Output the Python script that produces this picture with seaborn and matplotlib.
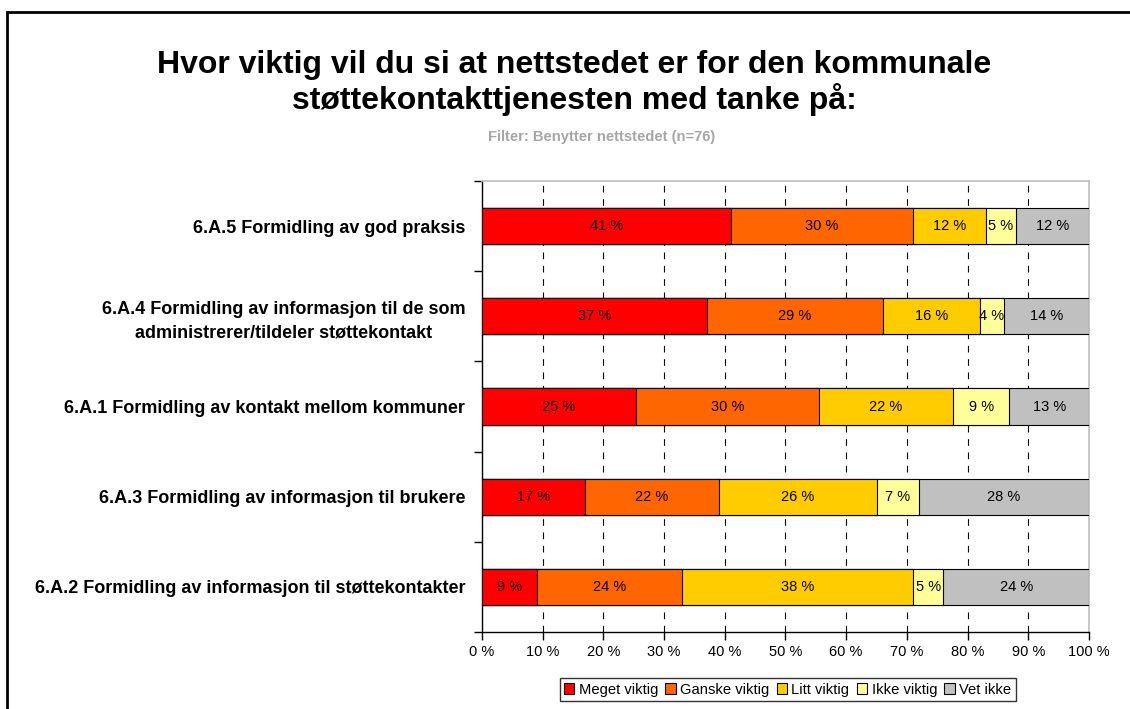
import numpy as np
import pandas as pd
import matplotlib
matplotlib.use("Agg")
import matplotlib.pyplot as plt
import seaborn as sns
from matplotlib.patches import Rectangle, Patch

# data (share of respondents, %)
questions = [
    "6.A.5 Formidling av god praksis",
    "6.A.4 Formidling av informasjon til de som\nadministrerer/tildeler støttekontakt",
    "6.A.1 Formidling av kontakt mellom kommuner",
    "6.A.3 Formidling av informasjon til brukere",
    "6.A.2 Formidling av informasjon til støttekontakter",
]
answers = ["Meget viktig", "Ganske viktig", "Litt viktig", "Ikke viktig", "Vet ikke"]
meget = [41, 37, 25.4, 17, 9]
ganske = [30, 29, 30.1, 22, 24]
litt = [12, 16, 22.1, 26, 38]
ikke = [5, 4, 9.3, 7, 5]
vet_ikke = [12, 14, 13.1, 28, 24]
colors = ["#FF0000", "#FF6600", "#FFCC00", "#FFFF99", "#C0C0C0"]

df = pd.DataFrame({"Spørsmål": questions, "Meget viktig": meget, "Ganske viktig": ganske,
                   "Litt viktig": litt, "Ikke viktig": ikke, "Vet ikke": vet_ikke})
cum = df[answers].cumsum(axis=1)

sns.set_theme(style="white")
plt.rcParams["font.family"] = ["Liberation Sans", "DejaVu Sans"]
plt.rcParams["text.color"] = "black"
plt.rcParams["xtick.color"] = "black"
plt.rcParams["ytick.color"] = "black"
plt.rcParams["axes.labelcolor"] = "black"

fig = plt.figure(figsize=(11.3, 7.09), dpi=100)
ax = fig.add_axes([0.4265, 0.1086, 0.5372, 0.6361])

# stacked bars: draw cumulative totals from the outermost segment inwards
for ans, col in reversed(list(zip(answers, colors))):
    sns.barplot(x=cum[ans], y=df["Spørsmål"], orient="h", color=col, width=0.4,
                edgecolor="black", linewidth=0.8, saturation=1, ax=ax, zorder=3)

for i in range(len(questions)):
    start = 0
    for ans in answers:
        v = df.loc[i, ans]
        ax.text(start + v / 2, i, f"{v:.0f} %", ha="center", va="center",
                fontsize=10.5, color="black", zorder=4)
        start += v

ax.set_xlim(0, 100)
ax.set_ylim(len(questions) - 0.5, -0.5)
ax.set_xticks(np.arange(0, 101, 10))
ax.set_xticklabels([f"{t} %" for t in range(0, 101, 10)], fontsize=10.5)
ax.set_xlabel("")
ax.set_ylabel("")
ax.set_yticks(range(len(questions)))
ax.set_yticklabels(questions, fontsize=13, fontweight="bold")
ax.set_yticks(np.arange(-0.5, len(questions), 1), minor=True)
ax.tick_params(axis="y", which="major", length=0, pad=12)
ax.tick_params(axis="y", which="minor", length=6, width=1, color="black", direction="out", left=True)
ax.tick_params(axis="x", length=6, width=1, color="black", direction="out", bottom=True, pad=3)
for lab in ax.get_yticklabels():
    lab.set_multialignment("center")
    lab.set_linespacing(1.5)

for x in range(10, 100, 10):
    ax.axvline(x, color="black", linestyle=(0, (6, 6)), linewidth=0.8, zorder=1)

ax.spines["left"].set_color("black")
ax.spines["bottom"].set_color("black")
ax.spines["left"].set_linewidth(1)
ax.spines["bottom"].set_linewidth(1)
ax.spines["top"].set_color("#C0C0C0")
ax.spines["right"].set_color("#C0C0C0")

fig.text(0.508, 0.8825, "Hvor viktig vil du si at nettstedet er for den kommunale\nstøttekontakttjenesten med tanke på:",
         ha="center", va="center", fontsize=23, fontweight="bold", linespacing=1.12)
fig.text(0.532, 0.807, "Filter: Benytter nettstedet (n=76)", ha="center", va="center",
         fontsize=10.6, fontweight="bold", color="#A6A6A6")

handles = [Patch(facecolor=c, edgecolor="black", linewidth=0.8) for c in colors]
fig.legend(handles, answers, loc="center", bbox_to_anchor=(0.697, 0.0275), ncol=5,
           frameon=True, fancybox=False, edgecolor="black", fontsize=10.6,
           handlelength=0.7, handleheight=0.7, handletextpad=0.3, columnspacing=0.5,
           borderpad=0.3)

# outer chart frame (runs off right and bottom edges)
fig.patches.append(Rectangle((7 / 1130, -0.05), 1.1, 1 - 12 / 709 + 0.05, transform=fig.transFigure,
                             fill=False, edgecolor="black", linewidth=2))

fig.savefig("out.png", dpi=100)
